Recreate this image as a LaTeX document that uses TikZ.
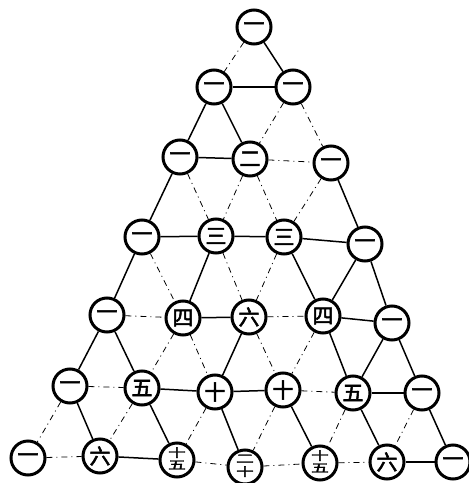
\documentclass[tikz,border=0pt]{standalone}
\usepackage{graphicx}
\usepackage{fontspec}
\newfontfamily\cjk[FakeBold=2.5]{Noto Sans CJK SC}
\newcommand{\twoup}[2]{{\fontsize{16}{12}\selectfont
  \begin{tabular}{@{}c@{}}\scalebox{1.1}[0.72]{#1}\\\scalebox{1.1}[0.72]{#2}\end{tabular}}}
\tikzset{
  num/.style={circle, draw, line width=3pt, fill=white, minimum size=34pt,
              inner sep=0pt, font=\cjk\fontsize{21}{21}\selectfont},
  ink/.style={line width=1.5pt},
  faint/.style={line width=0.8pt, dash pattern=on 6pt off 4pt on 1pt off 4pt},
}

\begin{document}
\begin{tikzpicture}[x=1pt, y=-1pt]
  \useasboundingbox (0,0) rectangle (469,483);

  % rows of the triangle
  \node[num] (n00) at (254,27) {一};

  \node[num] (n10) at (214,87) {一};
  \node[num] (n11) at (293,87) {一};

  \node[num] (n20) at (180,157) {一};
  \node[num] (n21) at (250,159) {二};
  \node[num] (n22) at (331,163) {一};

  \node[num] (n30) at (142,237) {一};
  \node[num] (n31) at (216,236) {三};
  \node[num] (n32) at (284,237) {三};
  \node[num] (n33) at (365,244) {一};

  \node[num] (n40) at (107,315) {一};
  \node[num] (n41) at (183,318) {四};
  \node[num] (n42) at (249,317) {六};
  \node[num] (n43) at (323,316) {四};
  \node[num] (n44) at (392,323) {一};

  \node[num] (n50) at (70,386) {一};
  \node[num] (n51) at (142,388) {五};
  \node[num] (n52) at (215,392) {十};
  \node[num] (n53) at (283,390) {十};
  \node[num] (n54) at (353,393) {五};
  \node[num] (n55) at (422,393) {一};

  \node[num] (n60) at (28,458) {一};
  \node[num] (n61) at (100,456) {六};
  \node[num] (n62) at (177,460) {\twoup{十}{五}};
  \node[num] (n63) at (245,467) {\twoup{二}{十}};
  \node[num] (n64) at (320,463) {\twoup{十}{五}};
  \node[num] (n65) at (387,462) {六};
  \node[num] (n66) at (453,462) {一};

  % inked links
  \foreach \a/\b in {n00/n11, n10/n11, n10/n20, n10/n21, n20/n21, n20/n30,
      n22/n33, n30/n31, n31/n32, n32/n33, n30/n40, n31/n41, n32/n43,
      n33/n43, n33/n44, n41/n42, n43/n44, n40/n50, n40/n51, n42/n52,
      n43/n54, n44/n54, n44/n55, n51/n52, n52/n53, n54/n55, n50/n61,
      n51/n62, n52/n63, n53/n64, n54/n65, n55/n66, n61/n62, n65/n66}
    \draw[ink] (\a) -- (\b);

  % faint links
  \foreach \a/\b in {n00/n10, n11/n21, n11/n22, n21/n22, n20/n31, n21/n31,
      n21/n32, n22/n32, n30/n41, n31/n42, n32/n42, n40/n41, n42/n43,
      n41/n51, n41/n52, n42/n53, n43/n53, n50/n51, n53/n54, n50/n60,
      n51/n61, n52/n62, n53/n63, n54/n64, n55/n65, n60/n61, n62/n63,
      n63/n64, n64/n65}
    \draw[faint] (\a) -- (\b);
\end{tikzpicture}
\end{document}
